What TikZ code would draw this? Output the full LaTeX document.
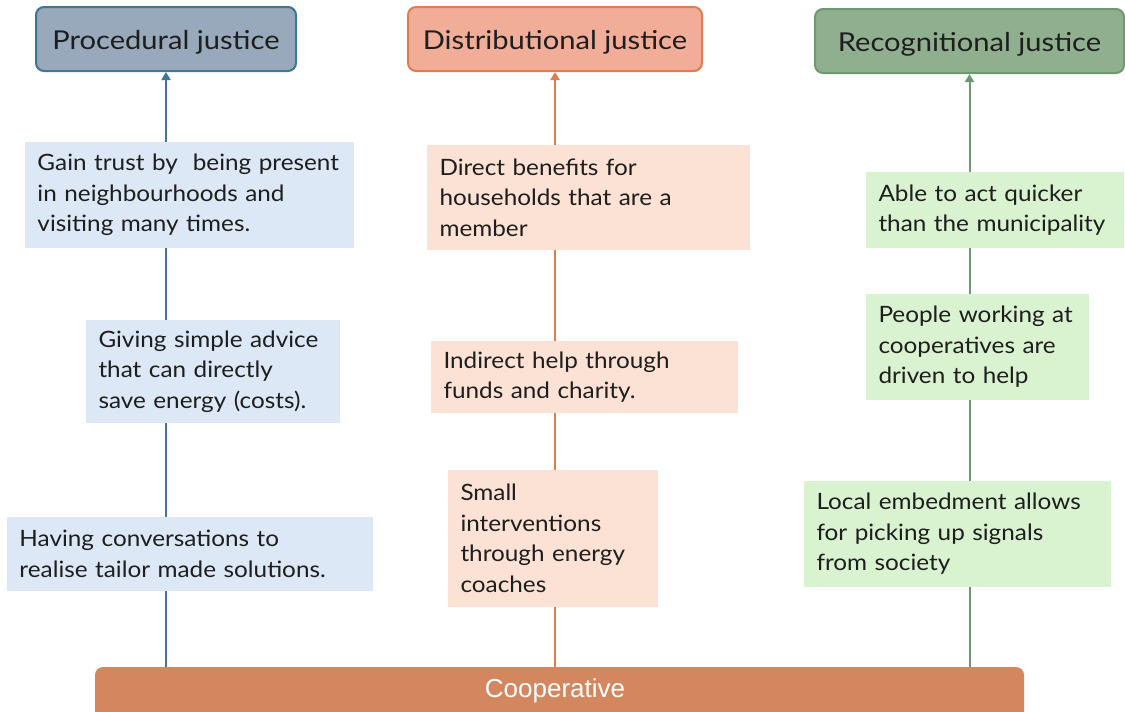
\documentclass[tikz,border=0pt]{standalone}
\usepackage{fontspec}
\setmainfont{Lato}[FakeStretch=1.08]
\newfontfamily\headfont{Lato}[FakeStretch=1.12]
\newfontfamily\barfont{Liberation Sans}
\usetikzlibrary{arrows.meta}

\definecolor{procFill}{RGB}{151,169,186}
\definecolor{procLine}{RGB}{62,118,148}
\definecolor{procBox}{RGB}{220,232,245}
\definecolor{distFill}{RGB}{241,173,152}
\definecolor{distLine}{RGB}{224,125,80}
\definecolor{distBox}{RGB}{251,226,213}
\definecolor{recFill}{RGB}{143,175,143}
\definecolor{recLine}{RGB}{110,152,114}
\definecolor{recBox}{RGB}{217,242,208}
\definecolor{coopFill}{RGB}{212,135,95}
\definecolor{ink}{RGB}{30,30,30}

\begin{document}
\begin{tikzpicture}[x=1pt,y=-1pt,
  header/.style={rounded corners=8pt, line width=2pt, minimum height=64pt,
    inner sep=0pt, text height=20pt, text depth=0pt, text=ink,
    font=\headfont\fontsize{26}{30}\selectfont},
  item/.style={rectangle, inner xsep=12.5pt, inner ysep=0pt, align=left,
    text=ink, font=\fontsize{22.5}{30.5}\selectfont},
  link/.style={line width=2pt},
  tip/.style={-{Triangle[width=9pt,length=8pt]}}]

\useasboundingbox (0,0) rectangle (1125,712);

% column headers
\node[header, draw=procLine, fill=procFill, minimum width=260pt] (ph) at (166,39) {Procedural justice};
\node[header, draw=distLine, fill=distFill, minimum width=294pt] (dh) at (555,39) {Distributional justice};
\node[header, draw=recLine, fill=recFill, minimum width=309pt] (rh) at (969.5,41) {Recognitional justice};

% base bar
\node[rectangle, rounded corners=8pt, fill=coopFill, minimum width=929pt, minimum height=56pt,
  inner sep=0pt] (coop) at (559.5,695) {};
\node[text=white, font=\barfont\fontsize{26}{30}\selectfont] (cooptext) at (555,691) {Cooperative};

% vertical connectors from the bar up to each header
\draw[link, procLine, tip] (coop.north -| ph.south) -- (ph.south);
\draw[link, distLine, tip] (coop.north -| dh.south) -- (dh.south);
\draw[link, recLine, tip] (coop.north -| rh.south) -- (rh.south);

% procedural justice items
\node[item, fill=procBox, text width=304pt, minimum height=106pt] (p1) at (189.5,195)
  {Gain trust by~ being present\\in neighbourhoods and\\visiting many times.};
\node[item, fill=procBox, text width=229pt, minimum height=103pt] (p2) at (213,371.5)
  {Giving simple advice\\that can directly\\save energy (costs).};
\node[item, fill=procBox, text width=341pt, minimum height=74pt] (p3) at (190,554)
  {Having conversations to\\realise tailor made solutions.};

% distributional justice items
\node[item, fill=distBox, text width=298pt, minimum height=105pt] (d1) at (588.5,197.5)
  {Direct benefits for\\households that are a\\member};
\node[item, fill=distBox, text width=282pt, minimum height=72pt] (d2) at (584.5,377)
  {Indirect help through\\funds and charity.};
\node[item, fill=distBox, text width=185pt, minimum height=137pt] (d3) at (553,538.5)
  {Small\\interventions\\through energy\\coaches};

% recognitional justice items
\node[item, fill=recBox, text width=233pt, minimum height=76pt] (r1) at (995,210)
  {Able to act quicker\\than the municipality};
\node[item, fill=recBox, text width=198pt, minimum height=106pt] (r2) at (977.5,347)
  {People working at\\cooperatives are\\driven to help};
\node[item, fill=recBox, text width=282pt, minimum height=106pt] (r3) at (957.5,534)
  {Local embedment allows\\for picking up signals\\from society};

\end{tikzpicture}
\end{document}
